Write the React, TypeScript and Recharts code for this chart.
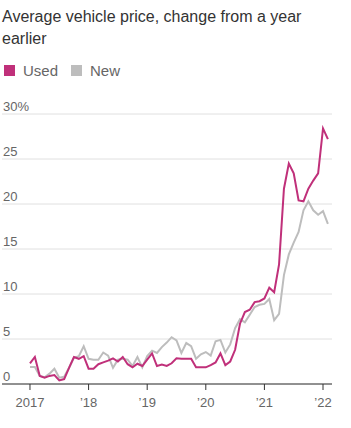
import { CartesianGrid, Line, LineChart, XAxis, YAxis } from "recharts";

// Monthly, Jan 2017 through Feb 2022 (index 0 = Jan 2017)
const usedChange = [
  2.3, 3.0, 0.9, 0.7, 0.9, 1.0, 0.4, 0.55, 1.8, 3.0, 2.8, 3.1,
  1.7, 1.7, 2.2, 2.4, 2.6, 2.85, 2.5, 3.0, 2.2, 1.85, 2.25, 2.0,
  2.7, 3.4, 2.0, 2.15, 2.0, 2.3, 2.85, 2.8, 2.8, 2.8, 1.85, 1.85,
  1.85, 2.1, 2.4, 3.4, 2.1, 2.5, 3.8, 6.7, 8.0, 8.25, 9.1, 9.2,
  9.5, 10.7, 10.2, 13.3, 21.7, 24.5, 23.4, 20.4, 20.3, 21.7, 22.6, 23.4,
  28.4, 27.2,
];
const newChange = [
  1.9, 1.9, 0.9, 0.75, 1.15, 1.7, 0.7, 0.8, 1.8, 2.9, 3.1, 4.2,
  2.8, 2.7, 2.7, 3.5, 3.15, 1.8, 2.7, 2.8, 2.7, 2.0, 3.0, 1.85,
  3.1, 3.7, 3.45, 4.1, 4.6, 5.2, 4.85, 3.45, 4.55, 4.2, 2.8, 3.3,
  3.55, 3.15, 4.75, 4.9, 3.5, 4.4, 6.2, 7.2, 6.85, 7.7, 8.55, 8.8,
  8.9, 9.45, 7.1, 7.8, 12.1, 14.4, 15.7, 16.9, 19.3, 20.3, 19.3, 18.8,
  19.2, 17.8,
];
const yearTicks = [0, 12, 24, 36, 48, 60];
const yearLabels = ["2017", "\u201918", "\u201919", "\u201920", "\u201921", "\u201922"];
const valueTicks = [0, 5, 10, 15, 20, 25, 30];
const valueLabels = ["0", "5", "10", "15", "20", "25", "30%"];

const USED = "#c0307a";
const NEW = "#bdbdbd";
const FONT = "'Liberation Sans', Arial, sans-serif";

const data = usedChange.map((used, i) => ({ month: i, used, new: newChange[i] }));

function ValueTick(props: { y?: number; payload?: { value: number } }) {
  const { y = 0, payload } = props;
  const idx = valueTicks.indexOf(payload ? payload.value : -1);
  return (
    <text x={3} y={y - 3} fontSize={13} fill="#666" fontFamily={FONT}>
      {idx >= 0 ? valueLabels[idx] : ""}
    </text>
  );
}

function YearTick(props: { x?: number; y?: number; payload?: { value: number } }) {
  const { x = 0, y = 0, payload } = props;
  const idx = yearTicks.indexOf(payload ? payload.value : -1);
  return (
    <text x={x} y={y + 15} textAnchor="middle" fontSize={13} fill="#666" fontFamily={FONT}>
      {idx >= 0 ? yearLabels[idx] : ""}
    </text>
  );
}

function LegendItem({ color, label }: { color: string; label: string }) {
  return (
    <span style={{ display: "inline-flex", alignItems: "center", marginRight: 13 }}>
      <span style={{ width: 11, height: 11, background: color, display: "inline-block", marginRight: 8 }} />
      {label}
    </span>
  );
}

export default function App() {
  return (
    <div
      style={{
        position: "fixed",
        left: 0,
        top: 0,
        width: 351,
        height: 428,
        background: "#fff",
        fontFamily: FONT,
        overflow: "hidden",
      }}
    >
      <div style={{ position: "absolute", left: 2, top: 6, fontSize: 16, lineHeight: "22px", color: "#333", width: 340 }}>
        Average vehicle price, change from a year earlier
      </div>
      <div style={{ position: "absolute", left: 4, top: 62, fontSize: 15, color: "#666", display: "flex" }}>
        <LegendItem color={USED} label="Used" />
        <LegendItem color={NEW} label="New" />
      </div>
      <div style={{ position: "absolute", left: 0, top: 90 }}>
        <LineChart width={351} height={338} data={data} margin={{ top: 24, right: 19, bottom: 0, left: 2 }}>
          <CartesianGrid horizontal vertical={false} stroke="#e0e0e0" />
          <XAxis
            dataKey="month"
            type="number"
            domain={[-5.73, 61.84]}
            ticks={yearTicks}
            tick={<YearTick />}
            tickLine={{ stroke: "#333" }}
            tickSize={6}
            axisLine={{ stroke: "#333" }}
            allowDataOverflow
            height={44}
          />
          <YAxis
            type="number"
            domain={[0, 30]}
            ticks={valueTicks}
            tick={<ValueTick />}
            axisLine={false}
            tickLine={false}
            mirror
            width={30}
            interval={0}
          />
          <Line
            type="linear"
            dataKey="new"
            stroke={NEW}
            strokeWidth={2}
            dot={false}
            isAnimationActive={false}
          />
          <Line
            type="linear"
            dataKey="used"
            stroke={USED}
            strokeWidth={2}
            dot={false}
            isAnimationActive={false}
          />
        </LineChart>
      </div>
    </div>
  );
}
